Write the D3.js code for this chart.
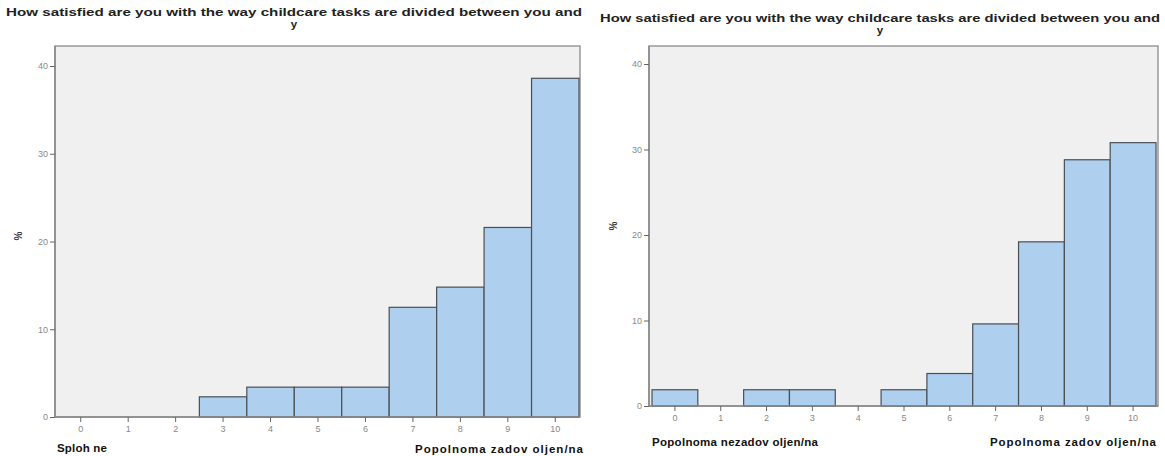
<!DOCTYPE html>
<html>
<head>
<meta charset="utf-8">
<script src="https://cdn.jsdelivr.net/npm/d3@7"></script>
<style>
  body { margin: 0; background: #fff; }
  svg { display: block; font-family: "Liberation Sans", Arial, sans-serif; }
  .tick text { fill: #888; font-size: 9px; }
  .tick line { stroke: #666; }
  .domain { display: none; }
</style>
</head>
<body>
<svg id="chart" width="1165" height="456"></svg>
<script>
// categories 0..10 (satisfaction scale)
var categories = [0, 1, 2, 3, 4, 5, 6, 7, 8, 9, 10];
var yTicks = [0, 10, 20, 30, 40];
var titleText = "How satisfied are you with the way childcare tasks are divided between you and";

// percentages
var leftValues  = [0, 0, 0, 2.3, 3.4, 3.4, 3.4, 12.5, 14.8, 21.6, 38.6];
var rightValues = [1.9, 0, 1.9, 1.9, 0, 1.9, 3.8, 9.6, 19.2, 28.8, 30.8];

var leftLabels  = ["Sploh ne", "Popolnoma zadov oljen/na"];
var rightLabels = ["Popolnoma nezadov oljen/na", "Popolnoma zadov oljen/na"];

var svg = d3.select("#chart");

function histogram(opt) {
    var g = svg.append("g");

    var x = d3.scaleBand()
        .domain(categories)
        .range([opt.x0, opt.x1])
        .padding(0);

    var y = d3.scaleLinear()
        .domain([0, 40])
        .range([opt.y0, opt.y40]);

    var top = opt.top;

    // title, two lines
    g.append("text")
        .attr("x", opt.titleX)
        .attr("y", opt.titleY)
        .attr("text-anchor", "middle")
        .attr("textLength", opt.titleW)
        .attr("lengthAdjust", "spacingAndGlyphs")
        .style("font-size", "11.5px")
        .style("font-weight", "bold")
        .style("fill", "#222")
        .text(titleText);

    g.append("text")
        .attr("x", opt.titleX)
        .attr("y", opt.titleY + 12)
        .attr("text-anchor", "middle")
        .style("font-size", "11.5px")
        .style("font-weight", "bold")
        .style("fill", "#222")
        .text("y");

    // plot area
    g.append("rect")
        .attr("x", opt.axisX)
        .attr("y", top)
        .attr("width", opt.frameR - opt.axisX)
        .attr("height", opt.y0 - top)
        .style("fill", "#f0f0f0")
        .style("stroke", "#999")
        .style("stroke-width", 1.5);

    // bars
    g.selectAll(".bar")
        .data(categories)
        .enter()
        .filter(function (d, i) { return opt.values[i] > 0; })
        .append("rect")
        .attr("class", "bar")
        .attr("x", d => x(d))
        .attr("width", x.bandwidth())
        .attr("y", d => y(opt.values[d]))
        .attr("height", d => opt.y0 - y(opt.values[d]))
        .style("fill", "#aecfee")
        .style("stroke", "#4a4f55")
        .style("stroke-width", 1.2);

    // axes
    g.append("line")
        .attr("x1", opt.axisX).attr("x2", opt.axisX)
        .attr("y1", top).attr("y2", opt.y0)
        .style("stroke", "#888").style("stroke-width", 1.5);

    g.append("line")
        .attr("x1", opt.axisX).attr("x2", opt.frameR)
        .attr("y1", opt.y0).attr("y2", opt.y0)
        .style("stroke", "#888").style("stroke-width", 1.5);

    g.append("g")
        .attr("transform", "translate(" + opt.axisX + ",0)")
        .call(d3.axisLeft(y).tickValues(yTicks).tickSize(5).tickPadding(2));

    g.append("g")
        .attr("transform", "translate(0," + opt.y0 + ")")
        .call(d3.axisBottom(x).tickSize(5).tickPadding(4));

    // y label
    g.append("text")
        .attr("transform", "translate(" + opt.pctX + "," + opt.pctY + ") rotate(-90)")
        .attr("text-anchor", "middle")
        .style("font-size", "10px")
        .style("font-weight", "bold")
        .style("fill", "#333")
        .text("%");

    // end labels
    g.append("text")
        .attr("x", opt.labL[0]).attr("y", opt.labL[1])
        .attr("textLength", opt.labL[2])
        .attr("lengthAdjust", "spacing")
        .style("font-size", "11.5px")
        .style("font-weight", "bold")
        .style("fill", "#111")
        .text(opt.labels[0]);

    g.append("text")
        .attr("x", opt.labR[0] - opt.labR[2]).attr("y", opt.labR[1])
        .attr("textLength", opt.labR[2])
        .attr("lengthAdjust", "spacing")
        .style("font-size", "11.5px")
        .style("font-weight", "bold")
        .style("fill", "#111")
        .text(opt.labels[1]);
}

histogram({
    values: leftValues, labels: leftLabels,
    x0: 57, x1: 579, axisX: 55, frameR: 580,
    y0: 417, y40: 66, top: 46,
    titleX: 294, titleY: 16, titleW: 576,
    pctX: 22, pctY: 236,
    labL: [57, 452, 50], labR: [583, 453, 168]
});

histogram({
    values: rightValues, labels: rightLabels,
    x0: 652, x1: 1156, axisX: 649, frameR: 1158,
    y0: 406, y40: 64, top: 46,
    titleX: 880, titleY: 22, titleW: 560,
    pctX: 617, pctY: 226,
    labL: [652, 446, 166], labR: [1156, 446, 166]
});
</script>
</body>
</html>
